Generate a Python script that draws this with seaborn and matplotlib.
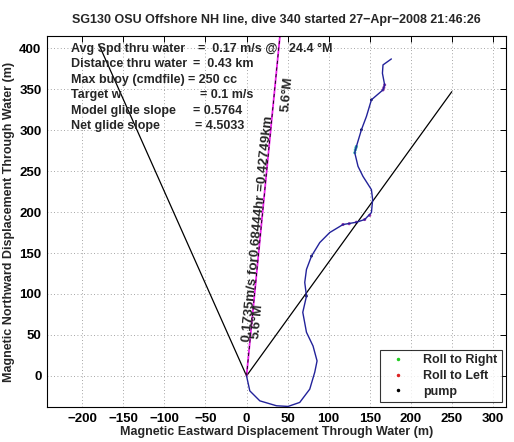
import numpy as np
import pandas as pd
import matplotlib
matplotlib.use("Agg")
import matplotlib.pyplot as plt
from matplotlib.lines import Line2D
import seaborn as sns

# ---------------- data ----------------
title = "SG130 OSU Offshore NH line, dive 340 started 27\u2212Apr\u22122008 21:46:26"
xlabel = "Magnetic Eastward Displacement Through Water (m)"
ylabel = "Magnetic Northward Displacement Through Water (m)"

# trajectory through water (m)
track_east = [0, 4.0, 16.2, 36.5, 50.6, 64.8, 77.0, 83.1, 85.9, 81.0, 73.0, 68.5,
              73.0, 70.9, 73.0, 79.1, 89.2, 101.3, 117.5, 133.8, 143.9, 152.1,
              153.6, 152.1, 141.8, 135.8, 131.8, 133.8, 139.9, 146.0, 152.1,
              166.2, 168.2, 165.5, 166.2, 176.4]
track_north = [0, -18.3, -30.5, -36.5, -37.3, -32.4, -16.2, 4.5, 18.3, 36.5, 53.2,
               77.6, 97.4, 114.1, 130.0, 146.2, 162.8, 175.0, 184.8, 187.6, 190.9,
               199.4, 215.2, 227.4, 243.6, 255.8, 272.5, 280.1, 300.5, 316.7,
               337.1, 349.2, 355.3, 369.5, 379.7, 387.0]

roll_right_east = [131.8, 132.5, 133.2, 133.8]
roll_right_north = [272.5, 276.0, 278.5, 280.1]
roll_left_east = [166.2, 167.2, 168.2, 117.5, 125.0, 133.8, 143.9, 150.0]
roll_left_north = [349.2, 352.0, 355.3, 184.8, 185.8, 187.6, 190.9, 196.0]
pump_east = [139.9, 73.0, 79.1, 152.1]
pump_north = [300.5, 97.4, 146.2, 337.1]

# glide lines from origin
glide_left_east = [0, -180]
glide_left_north = [0, 405]
glide_right_east = [0, 250]
glide_right_north = [0, 347]
avg_east = [0, 41.7]
avg_north = [0, 425.4]
avg_heading = 5.6

info_labels = ["Avg Spd thru water", "Distance thru water", "Max buoy (cmdfile)",
               "Target w", "Model glide slope", "Net glide slope"]
info_values = ["=  0.17 m/s @", "=  0.43 km", "= 250 cc", "= 0.1 m/s",
               "= 0.5764", "= 4.5033"]
info_extra = "24.4 \u00b0M"
avg_text = "0.1735m/s for0.68444hr =0.42749km"
heading_text = "5.6\u00b0M"

legend_labels = ["Roll to Right", "Roll to Left", "pump"]
legend_colors = ["#22cc22", "#dd2222", "black"]

xticks = list(range(-200, 301, 50))
yticks = list(range(0, 401, 50))

# ---------------- style ----------------
sns.set_style("white")
plt.rcParams["font.family"] = ["Liberation Sans", "DejaVu Sans"]
plt.rcParams["font.weight"] = "bold"
plt.rcParams["axes.labelweight"] = "bold"

W, H = 514, 442
fig = plt.figure(figsize=(W / 100, H / 100), dpi=100)
L, R, T, B = 47, 506, 36, 407
ax = fig.add_axes([L / W, 1 - B / H, (R - L) / W, (B - T) / H])

ax.set_xlim(-243, 316)
ax.set_ylim(-38, 415)

# grid
ax.set_xticks(xticks)
ax.set_yticks(yticks)
ax.grid(True, color="#888888", linestyle=(0, (1, 3)), linewidth=0.6)
ax.set_axisbelow(True)

# glide lines
sns.lineplot(x=glide_left_east, y=glide_left_north, ax=ax, color="black",
             linewidth=0.9, sort=False, estimator=None)
sns.lineplot(x=glide_right_east, y=glide_right_north, ax=ax, color="black",
             linewidth=0.9, sort=False, estimator=None)
sns.lineplot(x=avg_east, y=avg_north, ax=ax, color="#ee22ee",
             linewidth=1.3, sort=False, estimator=None)
ax.plot(avg_east, avg_north, color="black", linewidth=0.6, linestyle=(0, (4, 4)))

# trajectory
df = pd.DataFrame({"east": track_east, "north": track_north})
sns.lineplot(data=df, x="east", y="north", ax=ax, color="#22229a", linewidth=1.0,
             sort=False, estimator=None)
sns.scatterplot(x=roll_right_east, y=roll_right_north, ax=ax, color="#33bbaa",
                s=5, edgecolor="none")
sns.scatterplot(x=roll_left_east, y=roll_left_north, ax=ax, color="#9933aa",
                s=5, edgecolor="none")
sns.scatterplot(x=pump_east, y=pump_north, ax=ax, color="#111144",
                s=4, edgecolor="none")

# rotated annotations
rot = 90 - avg_heading
ax.text(3.9, 41, avg_text, rotation=rot, rotation_mode="anchor", ha="left",
        va="baseline", fontsize=9.6, fontweight="bold")
ax.text(14.5, 45, heading_text, rotation=rot, rotation_mode="anchor", ha="left",
        va="baseline", fontsize=9.6, fontweight="bold")
ax.text(51, 322, heading_text, rotation=rot, rotation_mode="anchor", ha="left",
        va="baseline", fontsize=9.6, fontweight="bold")

# info block (pixel layout)
label_x = 71
value_x = [198, 193, 188, 200, 193, 195]
line_y = [49, 64, 80, 95, 111, 126]
for lab, val, vx, ly in zip(info_labels, info_values, value_x, line_y):
    fig.text(label_x / W, 1 - ly / H, lab, ha="left", va="center",
             fontsize=9, fontweight="bold")
    fig.text(vx / W, 1 - ly / H, val, ha="left", va="center",
             fontsize=9, fontweight="bold")
fig.text(289 / W, 1 - line_y[0] / H, info_extra, ha="left", va="center",
         fontsize=9, fontweight="bold")

# axes styling
ax.set_title(title, fontsize=9, fontweight="bold", pad=9)
ax.set_xlabel(xlabel, fontsize=9, fontweight="bold", labelpad=1)
ax.set_ylabel(ylabel, fontsize=9, fontweight="bold", labelpad=3)
ax.set_xticklabels([str(t).replace("-", "\u2212") for t in xticks])
ax.set_yticklabels([str(t) for t in yticks])
ax.tick_params(direction="in", length=4, width=0.7, top=True, right=True,
               labelsize=9.5, pad=4, colors="black")
for lbl in ax.get_xticklabels() + ax.get_yticklabels():
    lbl.set_fontweight("bold")
for sp in ax.spines.values():
    sp.set_visible(True)
    sp.set_color("black")
    sp.set_linewidth(0.8)

handles = [Line2D([], [], marker=".", linestyle="none", color=c, markersize=3)
           for c in legend_colors]
leg = ax.legend(handles, legend_labels, loc="lower right",
                bbox_to_anchor=((502 - L) / (R - L), (B - 402) / (B - T)),
                borderaxespad=0, frameon=True, fancybox=False, edgecolor="black",
                fontsize=9, handlelength=2.2, handletextpad=0.9,
                borderpad=0.35, labelspacing=0.3)
leg.get_frame().set_linewidth(0.8)
for t in leg.get_texts():
    t.set_fontweight("bold")

fig.savefig("out.png", dpi=100)
